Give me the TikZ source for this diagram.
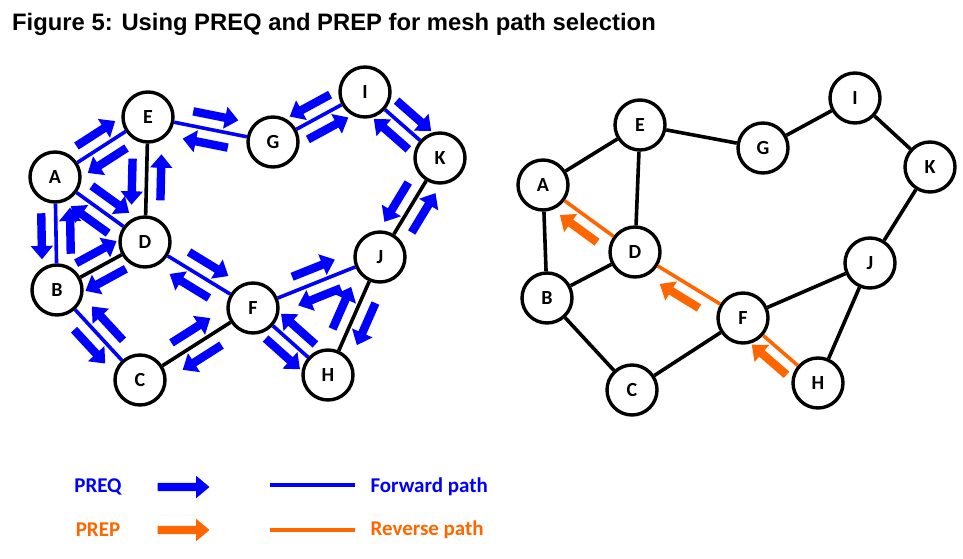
\documentclass[tikz,border=0pt]{standalone}
\usepackage{fontspec}
\setmainfont{Liberation Sans}
\newfontfamily\lblfont{Carlito}
\usetikzlibrary{shapes.arrows}
\definecolor{prepcol}{RGB}{255,102,0}

\begin{document}
\begin{tikzpicture}
  [x=1pt,y=-1pt,
   vtx/.style={circle,draw,line width=3.4pt,minimum size=50pt,inner sep=0pt,
     font=\lblfont\bfseries\fontsize{20}{20}\selectfont},
   lnk/.style={line width=3.6pt},
   fwd/.style={line width=3.6pt,blue},
   rev/.style={line width=3.6pt,prepcol},
   pkt/.style={single arrow,fill=blue,draw=none,inner sep=0pt,
     text height=4pt,text depth=4pt,minimum height=46pt,
     single arrow head extend=7pt,single arrow tip angle=80},
   pkr/.style={pkt,fill=prepcol},
   lgd/.style={font=\lblfont\bfseries\fontsize{21}{21}\selectfont}]
  \useasboundingbox (0,0) rectangle (963,559);

  \node[anchor=base west,inner sep=0pt,font=\bfseries\fontsize{23.8}{23.8}\selectfont] (title) at (12,31)
    {Figure 5: Using PREQ and PREP for mesh path selection};

  % left graph (PREQ flooding)
  \node[vtx] (a1) at (55,177)  {A};
  \node[vtx] (e1) at (148,117) {E};
  \node[vtx] (d1) at (145,242) {D};
  \node[vtx] (b1) at (57,290)  {B};
  \node[vtx] (c1) at (140,380) {C};
  \node[vtx] (f1) at (253,308) {F};
  \node[vtx] (j1) at (380,257) {J};
  \node[vtx] (h1) at (328,375) {H};
  \node[vtx] (g1) at (273,142) {G};
  \node[vtx] (i1) at (365,92)  {I};
  \node[vtx] (k1) at (440,158) {K};

  \foreach \from/\to in {a1/e1,a1/b1,a1/d1,e1/g1,g1/i1,i1/k1,d1/f1,f1/j1,f1/h1,b1/c1}
    \draw[fwd] (\from) -- (\to);
  \foreach \from/\to in {e1/d1,b1/d1,c1/f1,k1/j1,j1/h1}
    \draw[lnk] (\from) -- (\to);

  \foreach \from/\to/\side in {a1/e1/above,e1/d1/below,a1/d1/above,a1/b1/below,
      b1/d1/above,b1/c1/below,c1/f1/above,d1/f1/above,f1/j1/above,f1/h1/below,
      j1/h1/above,k1/j1/below,i1/k1/above,g1/i1/below,e1/g1/above}
  {
    \path (\from) -- node[pkt,sloped,allow upside down,\side=10pt] (q\from\to) {} (\to);
    \path (\to) -- node[pkt,sloped,allow upside down,\side=10pt] (q\to\from) {} (\from);
  }

  % right graph (PREP back to the source)
  \node[vtx] (a2) at (543,185) {A};
  \node[vtx] (e2) at (640,125) {E};
  \node[vtx] (d2) at (635,252) {D};
  \node[vtx] (b2) at (547,298) {B};
  \node[vtx] (c2) at (632,390) {C};
  \node[vtx] (f2) at (743,318) {F};
  \node[vtx] (h2) at (818,383) {H};
  \node[vtx] (j2) at (870,263) {J};
  \node[vtx] (k2) at (930,167) {K};
  \node[vtx] (i2) at (855,98)  {I};
  \node[vtx] (g2) at (763,148) {G};

  \foreach \from/\to in {a2/e2,a2/b2,e2/d2,b2/d2,b2/c2,c2/f2,e2/g2,g2/i2,i2/k2,k2/j2,j2/f2,j2/h2}
    \draw[lnk] (\from) -- (\to);
  \foreach \from/\to in {a2/d2,d2/f2,f2/h2}
    \draw[rev] (\from) -- (\to);
  \foreach \from/\to in {d2/a2,f2/d2,h2/f2}
    \path (\from) -- node[pkr,sloped,allow upside down,above=10pt] (r\from\to) {} (\to);

  % legend
  \node[lgd,text=blue] (lreq) at (98,487) {PREQ};
  \node[pkt,minimum height=52pt] (lreqarr) at (181,487) {};
  \coordinate (fw1) at (270,485);
  \coordinate (fw2) at (355,485);
  \draw[fwd] (fw1) -- (fw2);
  \node[lgd,text=blue,anchor=west] (lfwd) at (367,487) {Forward path};

  \node[lgd,text=prepcol] (lrep) at (98,530) {PREP};
  \node[pkr,minimum height=52pt] (lreparr) at (181,530) {};
  \coordinate (rv1) at (270,530);
  \coordinate (rv2) at (355,530);
  \draw[rev] (rv1) -- (rv2);
  \node[lgd,text=prepcol,anchor=west] (lrev) at (367,530) {Reverse path};
\end{tikzpicture}
\end{document}
